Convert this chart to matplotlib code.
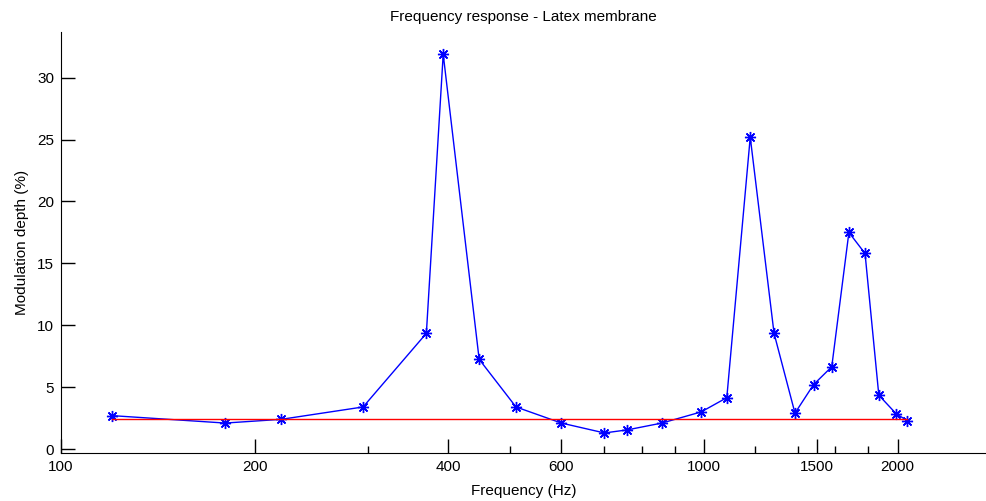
import numpy as np
import matplotlib
matplotlib.use("Agg")
import matplotlib.pyplot as plt
from matplotlib.ticker import FixedLocator, NullFormatter

# measured points (Hz, %)
freq = [120, 180, 220, 295, 370, 393, 447, 510, 600, 700, 760, 860, 990,
        1085, 1180, 1285, 1385, 1480, 1580, 1680, 1780, 1870, 1990, 2070]
depth = [2.7, 2.1, 2.4, 3.4, 9.35, 31.9, 7.25, 3.4, 2.1, 1.3, 1.55, 2.1, 3.0,
         4.15, 25.2, 9.35, 2.9, 5.2, 6.65, 17.5, 15.8, 4.35, 2.85, 2.3]
baseline = 2.45

major_ticks = [100, 200, 400, 600, 1000, 1500, 2000]
minor_ticks = [300, 500, 700, 800, 900, 1200, 1400, 1600, 1800]
yticks = [0, 5, 10, 15, 20, 25, 30]

plt.rcParams['font.family'] = ['Liberation Sans', 'DejaVu Sans']
fig = plt.figure(figsize=(9.87, 5.01), dpi=100)
ax = fig.add_axes([0.0618, 0.0958, 0.9372, 0.8405])

ax.plot(freq, depth, color='#0000ff', lw=1, marker=(8, 2, 0), ms=8, mew=1)
ax.plot([freq[0], freq[-1]], [baseline, baseline], color='#ff0000', lw=1)

ax.set_xscale('log')
ax.set_xlim(100, 2745)
ax.set_ylim(-0.32, 33.7)
ax.xaxis.set_major_locator(FixedLocator(major_ticks))
ax.xaxis.set_minor_locator(FixedLocator(minor_ticks))
ax.set_xticklabels([str(t) for t in major_ticks])
ax.xaxis.set_minor_formatter(NullFormatter())
ax.set_yticks(yticks)

for s in ['top', 'right']:
    ax.spines[s].set_visible(False)
ax.tick_params(which='major', direction='in', length=10, width=1, labelsize=11, pad=5)
ax.tick_params(which='minor', direction='in', length=5, width=1)

ax.set_title('Frequency response - Latex membrane', fontsize=11, pad=8)
ax.set_xlabel('Frequency (Hz)', fontsize=11, labelpad=7)
ax.set_ylabel('Modulation depth (%)', fontsize=11, labelpad=6)

fig.savefig('out.png', dpi=100)
